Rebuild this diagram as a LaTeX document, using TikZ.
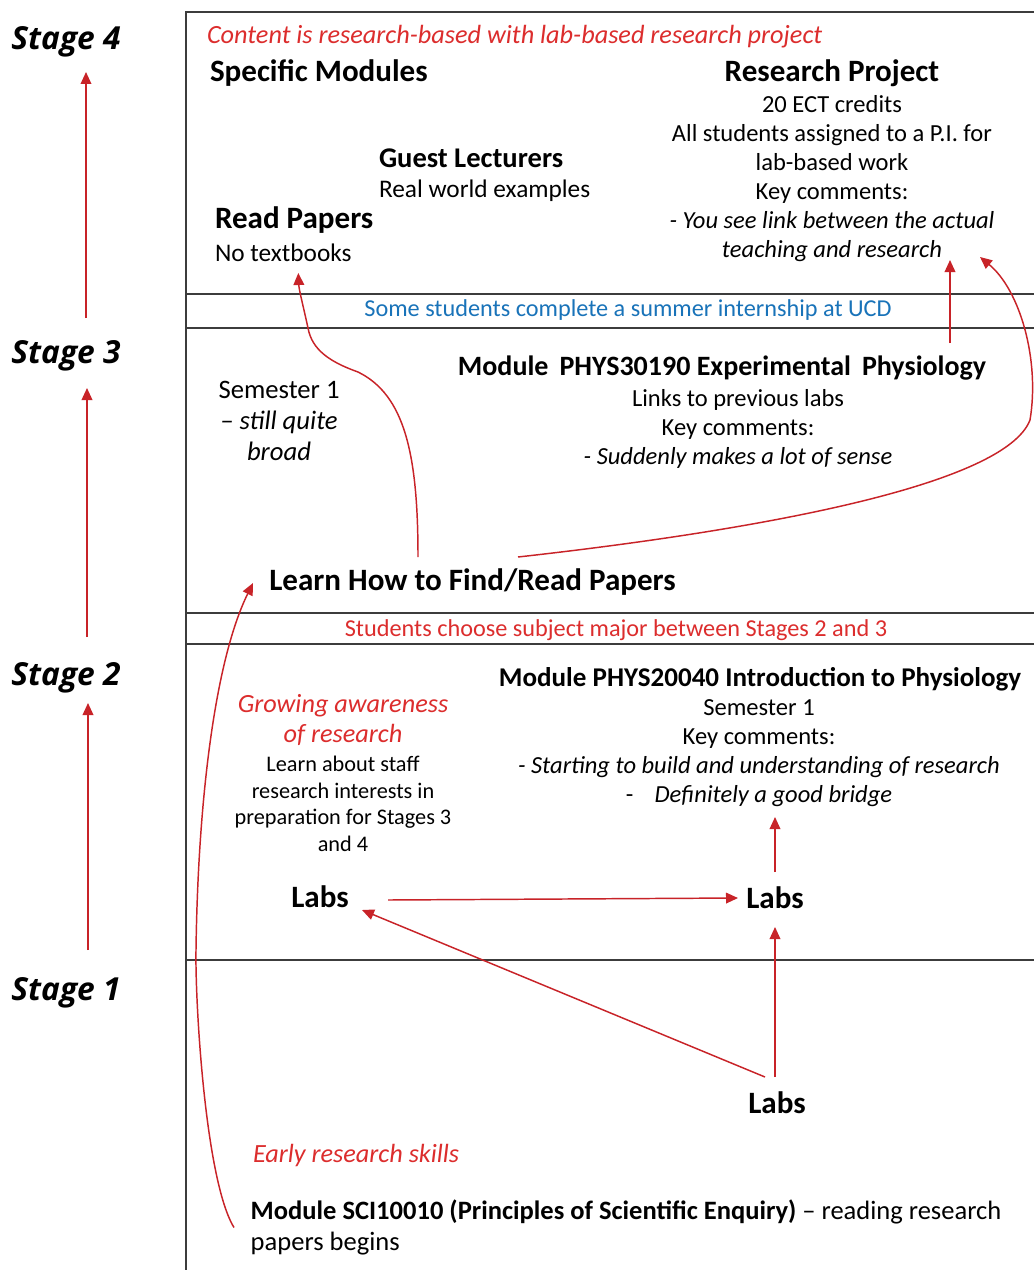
\documentclass[tikz,border=0pt]{standalone}
\usepackage{fontspec}
\setmainfont{Carlito}
\newfontfamily\stagefont{Open Sans}
\usetikzlibrary{arrows.meta,calc}
\definecolor{arrred}{RGB}{200,35,40}
\definecolor{txtred}{RGB}{220,45,45}
\definecolor{txtblue}{RGB}{25,115,185}
\definecolor{framegray}{RGB}{60,60,60}
\begin{document}
\begin{tikzpicture}[x=0.75pt,y=-0.75pt,
 every node/.style={inner sep=0pt,outer sep=0pt},
 frame/.style={draw=framegray,line width=1.4pt},
 arr/.style={draw=arrred,line width=1.1pt,-{Triangle[length=9pt,width=8pt]}},
 stagelbl/.style={font=\stagefont\bfseries\itshape\fontsize{23.8}{27}\selectfont},
 body/.style={font=\fontsize{18.4}{21.75}\selectfont,align=center},
 head/.style={font=\bfseries\fontsize{23.3}{27}\selectfont},
 mhead/.style={font=\bfseries\fontsize{20.3}{24}\selectfont},
 redit/.style={font=\itshape\fontsize{19.7}{22.5}\selectfont,text=txtred,align=center},
 small/.style={font=\fontsize{16.7}{19.9}\selectfont,align=center},
 band/.style={font=\fontsize{18.2}{21}\selectfont},
]
\useasboundingbox (0,0) rectangle (1034,1270);
\fill[white] (0,0) rectangle (1034,1270);

% frame
\draw[frame] (1034,12) -- (186,12) -- (186,1270);
\foreach \yy in {294,328,613,644,960} \draw[frame] (186,\yy) -- (1034,\yy);

% stage labels
\node[stagelbl] (s4) at (66,42) {Stage 4};
\node[stagelbl] (s3) at (66,356) {Stage 3};
\node[stagelbl] (s2) at (66,678) {Stage 2};
\node[stagelbl] (s1) at (66,993) {Stage 1};

% Stage 4
\node[redit,anchor=west] (content) at (207,37) {Content is research-based with lab-based research project};
\node[head,anchor=west] (spec) at (210,73) {Specific Modules};
\node[head] (rphead) at (832,73) {Research Project};
\node[body] (rpbody) at (832,179) {20 ECT credits\\All students assigned to a P.I. for\\lab-based work\\Key comments:\\\textit{- You see link between the actual}\\\textit{teaching and research}};
\node[head,anchor=west,font=\bfseries\fontsize{21.4}{25}\selectfont] (guest) at (379,158) {Guest Lecturers};
\node[body,anchor=west,font=\fontsize{19}{22}\selectfont] (realw) at (379,191) {Real world examples};
\node[head,anchor=west] (readp) at (215,220) {Read Papers};
\node[body,anchor=west,font=\fontsize{19}{22}\selectfont] (notext) at (215,253) {No textbooks};

\node[band,text=txtblue] (intern) at (628,310) {Some students complete a summer internship at UCD};

% Stage 3
\node[mhead,font=\bfseries\fontsize{21}{25}\selectfont] (ph3) at (722,368) {Module\, PHYS30190 Experimental\, Physiology};
\node[body] (ph3body) at (738,429) {Links to previous labs\\Key comments:\\\textit{- Suddenly makes a lot of sense}};
\node[body,font=\fontsize{20}{23.25}\selectfont] (sem3) at (279,421) {Semester 1\\\textit{-- still quite}\\\textit{broad}};
\node[head] (learn) at (472.5,582) {Learn How to Find/Read Papers};

\node[band,text=txtred] (major) at (616,630) {Students choose subject major between Stages 2 and 3};

% Stage 2
\node[mhead] (ph2) at (760,679) {Module PHYS20040 Introduction to Physiology};
\node[body] (ph2body) at (759,753) {Semester 1\\Key comments:\\\textit{- Starting to build and understanding of research}\\-\hspace{16pt}\textit{Definitely a good bridge}};
\node[redit] (grow) at (343,720) {Growing awareness\\of research};
\node[small] (staff) at (343,804) {Learn about staff\\research interests in\\preparation for Stages 3\\and 4};
\node[head] (labsL) at (320,897) {Labs};
\node[head] (labsR) at (775,898) {Labs};

% Stage 1
\node[head] (labsB) at (777,1103) {Labs};
\node[redit,anchor=west] (early) at (253,1155) {Early research skills};
\node[body,align=left,font=\fontsize{19.9}{23.25}\selectfont] (sci) at (626,1227.5) {\textbf{Module SCI10010 (Principles of Scientific Enquiry)} -- reading research\\papers begins};

% stage arrows
\draw[arr] ($(s3)+(20,-38)$) -- ($(s4)+(20,30)$);
\draw[arr] ($(s2)+(21,-41)$) -- ($(s3)+(21,32)$);
\draw[arr] ($(s1)+(22,-43)$) -- ($(s2)+(22,25)$);

% connectors
\draw[arr] ($(labsL)+(68,3)$) -- ($(labsR)+(-37,0)$);
\draw[arr] ($(labsR)+(0,-26)$) -- ($(ph2body)+(16,64)$);
\draw[arr] ($(labsB)+(-2,-26)$) -- ($(labsR)+(0,29)$);
\draw[arr] ($(labsB)+(-12,-26)$) -- ($(labsL)+(42,13)$);
\draw[arr] ($(learn)+(-54.5,-25)$) .. controls (418,455) and (405,395) .. (358,372)
   .. controls (330,362) and (312,350) .. (308,328)
   .. controls (303,305) and (299,290) .. ($(notext)+(15,20)$);
\draw[arr] ($(learn)+(45.5,-25)$) .. controls (760,530) and (1005,485) .. (1030,420)
   .. controls (1040,360) and (1020,290) .. ($(rpbody)+(148,78)$);
\draw[arr] ($(ph3)+(228,-25)$) -- ($(rpbody)+(118,81)$);
\draw[arr] ($(sci)+(-392,0)$) .. controls (205,1180) and (195,1000) .. (196,950)
   .. controls (198,800) and (215,660) .. ($(learn)+(-219.5,1)$);
\end{tikzpicture}
\end{document}
